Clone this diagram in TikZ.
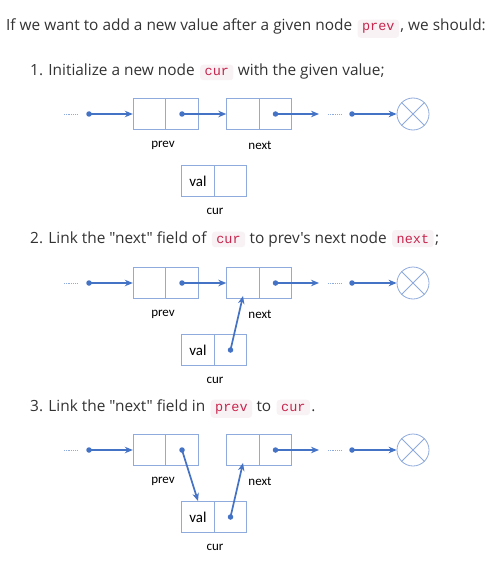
\documentclass[tikz,border=0pt]{standalone}
\usepackage{fontspec}
\setmainfont{Open Sans}[Ligatures=TeXOff]
\setmonofont{Liberation Mono}
\newfontfamily\boxfont{Carlito}
\usetikzlibrary{arrows.meta,positioning}
\definecolor{txtgray}{HTML}{333333}
\definecolor{codered}{HTML}{C7254E}
\definecolor{codebg}{HTML}{F9F2F4}
\definecolor{linkblue}{HTML}{4472C4}
\definecolor{boxblue}{HTML}{8FAADC}
\tikzset{
  txt/.style={anchor=base west, inner sep=0pt, text=txtgray, font=\fontsize{15.4}{18}\selectfont},
  code/.style={anchor=base west, fill=codebg, rounded corners=3pt, inner xsep=4.5pt, inner ysep=4pt, text=codered, font=\ttfamily\fontsize{13.5}{15}\selectfont},
  cell/.style={draw=boxblue, line width=0.9pt, minimum width=32.5pt, minimum height=31pt, inner sep=0pt, font=\boxfont\fontsize{15}{17}\selectfont},
  lbl/.style={inner sep=0pt, font=\boxfont\fontsize{13}{15}\selectfont},
  link/.style={draw=linkblue, line width=1.7pt, -{Stealth[length=8pt,width=6.5pt]}},
  ptr/.style={circle, fill=linkblue, inner sep=0pt, minimum size=5.5pt},
  more/.style={draw=boxblue, densely dotted, line width=0.8pt},
  nil/.style={circle, draw=boxblue, line width=0.8pt, minimum size=32pt, inner sep=0pt},
}
\begin{document}
\begin{tikzpicture}[x=1pt,y=-1pt]
  \useasboundingbox (0,0) rectangle (501,567);
  % the text lines
  \node[txt] (l1a) at (6,31) {If we want to add a new value after a given node};
  \node[code] (l1b) at ([xshift=5pt]l1a.base east) {prev};
  \node[txt] (l1c) at ([xshift=1pt]l1b.base east) {, we should:};
  \node[txt] (l2a) at (30,76) {1. Initialize a new node};
  \node[code] (l2b) at ([xshift=5pt]l2a.base east) {cur};
  \node[txt] (l2c) at ([xshift=4pt]l2b.base east) {with the given value;};
  \node[txt] (l3a) at (30,243) {2. Link the "next" field of};
  \node[code] (l3b) at ([xshift=5pt]l3a.base east) {cur};
  \node[txt] (l3c) at ([xshift=4pt]l3b.base east) {to prev's next node};
  \node[code] (l3d) at ([xshift=5pt]l3c.base east) {next};
  \node[txt] (l3e) at ([xshift=1pt]l3d.base east) {;};
  \node[txt] (l4a) at (30,411) {3. Link the "next" field in};
  \node[code] (l4b) at ([xshift=5pt]l4a.base east) {prev};
  \node[txt] (l4c) at ([xshift=4pt]l4b.base east) {to};
  \node[code] (l4d) at ([xshift=5pt]l4c.base east) {cur};
  \node[txt] (l4e) at ([xshift=1pt]l4d.base east) {.};
  % the three lists
  \foreach \r/\yy in {1/114,2/283,3/450}{
    \node[cell] (pa\r) at (149.5,\yy) {};
    \node[cell] (pb\r) at (182,\yy) {};
    \node[cell] (na\r) at (243,\yy) {};
    \node[cell] (nb\r) at (275.5,\yy) {};
    \node[cell] (ca\r) at (198,\yy+67) {val};
    \node[cell] (cb\r) at (230.5,\yy+67) {};
    \node[lbl] (pl\r) at (163,\yy+31) {prev};
    \node[lbl] (nl\r) at (260,\yy+31) {next};
    \node[lbl] (cl\r) at (215,\yy+97) {cur};
    \coordinate (da\r) at (64,\yy);
    \coordinate (db\r) at (77,\yy);
    \coordinate (dc\r) at (328,\yy);
    \coordinate (dd\r) at (342,\yy);
    \coordinate (e\r) at (319,\yy);
    \node[ptr] (s\r) at (89,\yy) {};
    \node[ptr] (t\r) at (352,\yy) {};
    \node[nil] (nil\r) at (413,\yy) {};
    \draw[more] (da\r) -- (db\r);
    \draw[more] (dc\r) -- (dd\r);
    \draw[boxblue, line width=0.8pt] (nil\r.north west) -- (nil\r.south east)
      (nil\r.north east) -- (nil\r.south west);
    \draw[link] (s\r.center) -- (pa\r.west);
    \draw[link] (t\r.center) -- (nil\r.west);
    \node[ptr] (pp\r) at (pb\r.center) {};
    \node[ptr] (np\r) at (nb\r.center) {};
    \draw[link] (np\r.center) -- (e\r);
  }
  \draw[link] (pp1.center) -- (na1.west);
  \draw[link] (pp2.center) -- (na2.west);
  \draw[link] (pp3.center) -- (ca3.north);
  \node[ptr] (cp2) at (cb2.center) {};
  \node[ptr] (cp3) at (cb3.center) {};
  \draw[link] (cp2.center) -- ([yshift=3pt]na2.south);
  \draw[link] (cp3.center) -- ([yshift=3pt]na3.south);
\end{tikzpicture}
\end{document}
